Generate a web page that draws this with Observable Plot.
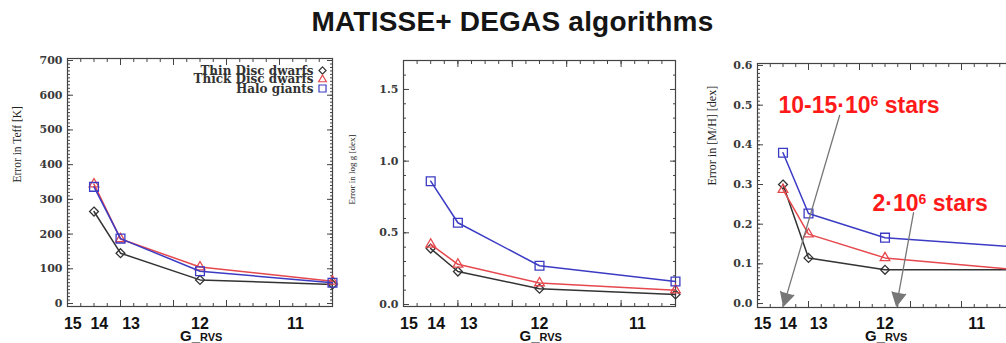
<!DOCTYPE html>
<html><head><meta charset="utf-8">
<script src="https://cdn.jsdelivr.net/npm/d3@7"></script>
<script src="https://cdn.jsdelivr.net/npm/@observablehq/plot@0.6"></script>
<style>
body{margin:0;background:#fff;}
#wrap{position:relative;width:1006px;height:343px;overflow:hidden;background:#fff;}
.panel{position:absolute;top:0;}
#title{position:absolute;left:0;width:1025px;top:8px;text-align:center;font:bold 28px "Liberation Sans",Arial,sans-serif;letter-spacing:0.2px;line-height:28px;color:#151515;z-index:5;}
</style></head><body>
<div id="wrap"></div>
<script>
// ---- data ----
const gTickLabels = ["15", "14", "13", "12", "11"];
const gTickPos = [0.2, 1.2, 2.4, 5.0, 8.6];
const xValues = [1, 2, 5, 10];
const seriesNames = ["Thin Disc dwarfs", "Thick Disc dwarfs", "Halo giants"];
const teffThin = [265, 145, 68, 55];
const teffThick = [344, 186, 105, 64];
const teffHalo = [336, 187, 93, 60];
const loggThin = [0.39, 0.23, 0.11, 0.07];
const loggThick = [0.42, 0.28, 0.15, 0.10];
const loggHalo = [0.86, 0.57, 0.27, 0.16];
const mhThin = [0.30, 0.115, 0.085, 0.085];
const mhThick = [0.287, 0.175, 0.115, 0.086];
const mhHalo = [0.38, 0.227, 0.166, 0.143];
const annotations = [
  {x: 0.82, y: 0.481, text: "10-15·10⁶ stars"},
  {x: 4.51, y: 0.234, text: "2·10⁶ stars"}
];
const arrows = [
  {x1: 3.22, y1: 0.474, x2: 1.02, y2: -0.006},
  {x1: 6.12, y1: 0.229, x2: 5.45, y2: -0.006}
];

// ---- styles ----
const colors = ["#333333", "#e5484d", "#3b3bc4"];
const symbols = ["diamond2", "triangle2", "square2"];
const radii = [4, 4.6, 5.6];
const serif = "DejaVu Serif, serif";
const sans = "Liberation Sans, Arial, sans-serif";

const wrap = document.getElementById("wrap");

function panel(cfg) {
  const ticks = gTickPos.map((p, i) => ({p, label: gTickLabels[i]}));
  const axisCommon = {label: null, stroke: "#444"};
  const marks = [
    Plot.frame({stroke: "#444", strokeWidth: 1.2}),
    Plot.axisX({...axisCommon, anchor: "bottom", ticks: d3.range(0, 10.001, 0.5), tickSize: -3, tickFormat: () => ""}),
    Plot.axisX({...axisCommon, anchor: "bottom", ticks: d3.range(0, 10.001, 2), tickSize: -6, tickFormat: () => ""}),
    Plot.axisX({...axisCommon, anchor: "top", ticks: d3.range(0, 10.001, 0.5), tickSize: -3, tickFormat: () => ""}),
    Plot.axisX({...axisCommon, anchor: "top", ticks: d3.range(0, 10.001, 2), tickSize: -6, tickFormat: () => ""}),
    Plot.axisY({...axisCommon, anchor: "left", ticks: cfg.yMinor, tickSize: -3, tickFormat: () => ""}),
    Plot.axisY({...axisCommon, anchor: "left", ticks: cfg.yMajor, tickSize: -6, tickPadding: 11, tickFormat: cfg.yFmt,
      fontFamily: serif, fontWeight: "bold", fontSize: 11, fill: "#3a3a3a"}),
    Plot.axisY({...axisCommon, anchor: "right", ticks: cfg.yMinor, tickSize: -3, tickFormat: () => ""}),
    Plot.axisY({...axisCommon, anchor: "right", ticks: cfg.yMajor, tickSize: -6, tickFormat: () => ""}),
    Plot.text([cfg.ylabel], {frameAnchor: "left", rotate: -90, dx: cfg.ylabelDx, dy: cfg.ylabelDy,
      fontFamily: "Liberation Serif, serif", fontSize: cfg.ylabelSize, fill: "#222"}),
    Plot.text(ticks, {x: "p", text: "label", frameAnchor: "bottom", lineAnchor: "bottom", dy: cfg.gDy,
      fontFamily: sans, fontWeight: "bold", fontSize: 16, fill: "#111"}),
    Plot.text(["G_"], {x: gTickPos[3], frameAnchor: "bottom", textAnchor: "end", lineAnchor: "bottom", dy: cfg.gDy + 12,
      fontFamily: sans, fontWeight: "bold", fontSize: 15, fill: "#111"}),
    Plot.text(["RVS"], {x: gTickPos[3], frameAnchor: "bottom", textAnchor: "start", lineAnchor: "bottom", dy: cfg.gDy + 12,
      fontFamily: sans, fontWeight: "bold", fontSize: 11, fill: "#111"})
  ];
  seriesNames.forEach((s, k) => {
    const rows = cfg.data[k].map((v, i) => ({x: xValues[i], y: v}));
    marks.push(Plot.line(rows, {x: "x", y: "y", stroke: colors[k], strokeWidth: 1.5}));
    marks.push(Plot.dot(rows, {x: "x", y: "y", symbol: symbols[k], r: radii[k], stroke: colors[k], fill: "none", strokeWidth: 1.3}));
  });
  if (cfg.extra) marks.push(...cfg.extra);
  const svg = Plot.plot({
    width: 340, height: 343,
    marginLeft: cfg.ml, marginRight: cfg.mr, marginTop: cfg.mt, marginBottom: cfg.mb,
    x: {domain: [0, 10], label: null},
    y: {domain: cfg.ydomain, label: null},
    style: {background: "transparent", overflow: "visible"},
    marks
  });
  svg.classList.add("panel");
  svg.style.left = cfg.left + "px";
  // render the "⁶" of annotations as a real superscript
  svg.querySelectorAll("text").forEach((t) => {
    const s = t.textContent;
    if (!s.includes("⁶")) return;
    const [before, after] = s.split("⁶");
    t.textContent = before;
    const sup = document.createElementNS("http://www.w3.org/2000/svg", "tspan");
    sup.setAttribute("dy", "-7");
    sup.setAttribute("font-size", "14");
    sup.textContent = "6";
    const rest = document.createElementNS("http://www.w3.org/2000/svg", "tspan");
    rest.setAttribute("dy", "7");
    rest.textContent = after;
    t.appendChild(sup);
    t.appendChild(rest);
  });
  wrap.appendChild(svg);
}

// legend marks for panel 1
const legendTextDy = [16, 24, 34];
const legendSymDy = [12, 21, 30];
const legendMarks = [];
seriesNames.forEach((s, k) => {
  legendMarks.push(Plot.text([s], {frameAnchor: "top-right", textAnchor: "end", lineAnchor: "bottom", dx: -19, dy: legendTextDy[k],
    fontFamily: serif, fontWeight: "bold", fontSize: 12, fill: "#333"}));
  legendMarks.push(Plot.dot([s], {frameAnchor: "top-right", dx: -10, dy: legendSymDy[k], symbol: symbols[k], r: radii[k] * 0.8,
    stroke: colors[k], fill: "none", strokeWidth: 1.2}));
});

panel({
  left: 0, ml: 67, mr: 8, mt: 58, mb: 37,
  ydomain: [-8.6, 705.8], yMajor: d3.range(0, 701, 100), yMinor: d3.range(0, 705, 10), yFmt: d3.format("d"),
  ylabel: "Error in Teff [K]", ylabelSize: 11.5, ylabelDx: -50, ylabelDy: 0, gDy: 22,
  data: [teffThin, teffThick, teffHalo], extra: legendMarks
});
panel({
  left: 340, ml: 63, mr: 5, mt: 60, mb: 37,
  ydomain: [-0.014, 1.702], yMajor: [0, 0.5, 1, 1.5], yMinor: d3.range(0, 1.7, 0.1), yFmt: d3.format(".1f"),
  ylabel: "Error in log g [dex]", ylabelSize: 9, ylabelDx: -51, ylabelDy: 21, gDy: 22,
  data: [loggThin, loggThick, loggHalo]
});
panel({
  left: 680, ml: 77, mr: 8, mt: 63, mb: 36,
  ydomain: [-0.010, 0.605], yMajor: d3.range(0, 0.601, 0.1), yMinor: d3.range(0, 0.605, 0.01), yFmt: d3.format(".1f"),
  ylabel: "Error in [M/H] [dex]", ylabelSize: 12, ylabelDx: -45, ylabelDy: 0, gDy: 21,
  data: [mhThin, mhThick, mhHalo],
  extra: [
    Plot.arrow(arrows, {x1: "x1", y1: "y1", x2: "x2", y2: "y2", stroke: "#777", fill: "#777", strokeWidth: 1.3, headLength: 17, headAngle: 55}),
    Plot.text(annotations, {x: "x", y: "y", text: "text", textAnchor: "start", lineAnchor: "bottom",
      fontFamily: sans, fontWeight: "bold", fontSize: 23, fill: "#ff1a1a"})
  ]
});

const title = document.createElement("div");
title.id = "title";
title.textContent = "MATISSE+ DEGAS algorithms";
wrap.appendChild(title);
</script>
</body></html>
